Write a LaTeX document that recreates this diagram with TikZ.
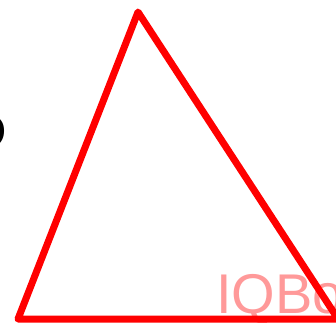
\documentclass[tikz,border=0pt]{standalone}
\usepackage{fontspec}
\setmainfont{Liberation Sans}
\begin{document}
\begin{tikzpicture}[x=1pt,y=1pt,
  tri/.style={draw=red,line width=7pt,line join=round},
  wm/.style={text=red!40,font=\fontsize{56}{60}\selectfont,inner sep=0pt,anchor=base west},
  lbl/.style={text=black,font=\fontsize{49}{52}\selectfont,inner sep=0pt,anchor=base east}]
\useasboundingbox (0,0) rectangle (336,322);
\node[wm] (w) at (216,9) {IQBo};
\coordinate (A) at (138,310);
\coordinate (B) at (18,3);
\coordinate (C) at (338,3);
\draw[tri] (A) -- (B) -- (C) -- cycle;
\node[lbl] (d) at (7,174) {D};
\end{tikzpicture}
\end{document}
